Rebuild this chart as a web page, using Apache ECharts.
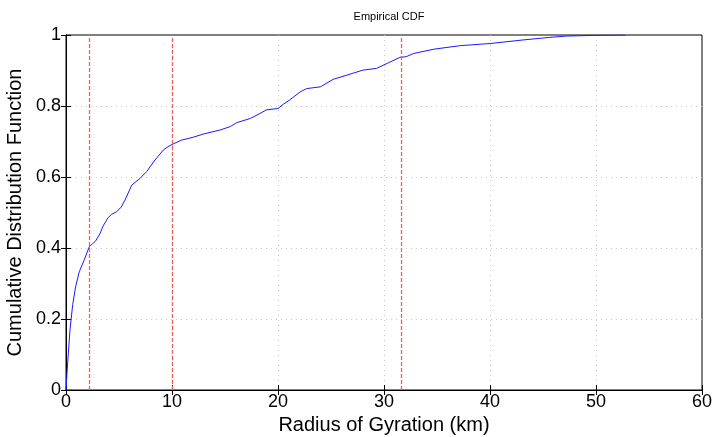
<!DOCTYPE html>
<html>
<head>
<meta charset="utf-8">
<script src="https://cdn.jsdelivr.net/npm/echarts@6/dist/echarts.min.js"></script>
<style>
  html, body { margin: 0; padding: 0; background: #fff; }
  #chart { width: 712px; height: 437px; }
</style>
</head>
<body>
<div id="chart"></div>
<script>
// Empirical CDF of radius of gyration (km)
const radius = [0, 0.1, 0.22, 0.38, 0.63, 0.9, 1.25, 1.7, 2.2, 2.5, 2.8, 3.2, 3.5, 3.96, 4.3, 4.78,
  5.2, 5.57, 6.2, 6.98, 7.6, 8.4, 9.18, 9.6, 10.1, 10.9, 12.0, 12.95, 14.5, 15.5, 16.1, 17.4,
  18.3, 18.9, 20.0, 20.5, 21.1, 22.1, 22.7, 24.0, 25.2, 26.5, 28.0, 29.3, 30.3, 31.5, 32.1,
  32.8, 34.7, 37.2, 40.0, 43.1, 45.5, 47.2, 50.0, 52.8];
const cdf = [0, 0.05, 0.104, 0.17, 0.24, 0.29, 0.333, 0.365, 0.404, 0.412, 0.42, 0.44, 0.462, 0.485, 0.495, 0.502,
  0.515, 0.535, 0.577, 0.596, 0.615, 0.648, 0.676, 0.685, 0.693, 0.704, 0.712, 0.721, 0.732, 0.742, 0.753, 0.765,
  0.779, 0.789, 0.793, 0.805, 0.817, 0.840, 0.849, 0.854, 0.875, 0.887, 0.901, 0.906, 0.920, 0.937, 0.939,
  0.948, 0.960, 0.970, 0.976, 0.986, 0.993, 0.997, 0.999, 1.0];
// Reference radii marked with dashed vertical lines
const markers = [2.2, 10, 31.6];
const xTicks = [0, 10, 20, 30, 40, 50, 60];
const yTicks = [0, 0.2, 0.4, 0.6, 0.8, 1];

const FONT = '"Liberation Sans", Arial, Helvetica, sans-serif';
const chart = echarts.init(document.getElementById('chart'), null, { renderer: 'canvas' });

const gridLine = {
  show: true, showMinLine: false, showMaxLine: false,
  lineStyle: { color: '#c8c8c8', type: [1, 4], width: 1 }
};
const tick = { show: true, inside: true, length: 5, lineStyle: { color: '#000' } };

const points = radius.map((r, i) => [r, cdf[i]]);

chart.setOption({
  animation: false,
  backgroundColor: '#fff',
  title: {
    text: 'Empirical CDF',
    left: 384, top: 6, textAlign: 'center',
    textStyle: { fontFamily: FONT, fontSize: 11, fontWeight: 'normal', color: '#000' }
  },
  grid: {
    left: 66, right: 10, top: 35, bottom: 47,
    outerBoundsMode: 'none', containLabel: false,
    show: true, borderColor: '#000', borderWidth: 1
  },
  xAxis: [{
    type: 'value', min: xTicks[0], max: xTicks[xTicks.length - 1], interval: 10,
    name: 'Radius of Gyration (km)', nameLocation: 'middle', nameGap: 21,
    nameTextStyle: { fontFamily: FONT, fontSize: 20, color: '#000' },
    axisLine: { show: true, lineStyle: { color: '#000' } },
    axisTick: tick,
    axisLabel: { fontFamily: FONT, fontSize: 18, color: '#000', margin: 3 },
    splitLine: gridLine
  }, {
    type: 'value', position: 'top', min: xTicks[0], max: xTicks[xTicks.length - 1], interval: 10,
    axisLine: { show: true, lineStyle: { color: '#000' } },
    axisTick: tick, axisLabel: { show: false }, splitLine: { show: false }
  }],
  yAxis: [{
    type: 'value', min: yTicks[0], max: yTicks[yTicks.length - 1], interval: 0.2,
    name: 'Cumulative Distribution Function', nameLocation: 'middle', nameGap: 35,
    nameTextStyle: { fontFamily: FONT, fontSize: 20, color: '#000' },
    axisLine: { show: true, lineStyle: { color: '#000' } },
    axisTick: tick,
    axisLabel: { fontFamily: FONT, fontSize: 18, color: '#000', margin: 5 },
    splitLine: gridLine
  }, {
    type: 'value', position: 'right', min: yTicks[0], max: yTicks[yTicks.length - 1], interval: 0.2,
    axisLine: { show: true, lineStyle: { color: '#000' } },
    axisTick: tick, axisLabel: { show: false }, splitLine: { show: false }
  }],
  series: [{
    type: 'line',
    data: points,
    showSymbol: false,
    lineStyle: { color: '#1a1aff', width: 1 },
    z: 3,
    markLine: {
      silent: true,
      symbol: 'none',
      label: { show: false },
      lineStyle: { color: '#f06060', type: [4, 2], width: 1.3 },
      data: markers.map(v => ({ xAxis: v }))
    }
  }]
});
</script>
</body>
</html>
